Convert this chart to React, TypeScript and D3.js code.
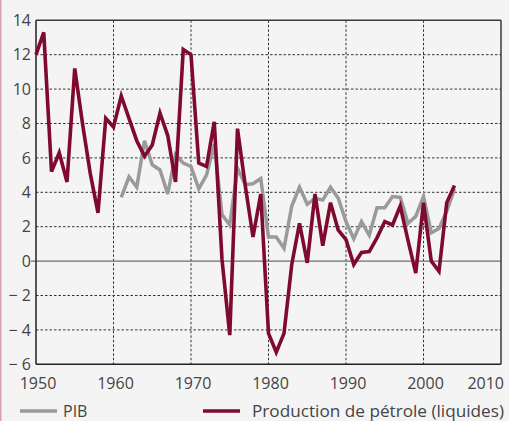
import React from "react";
import * as d3 from "d3";

const oilYears = d3.range(1950, 2005);
const oilValues = [
  12.0, 13.3, 5.2, 6.3, 4.6, 11.2, 8.0, 5.1, 2.8, 8.3,
  7.8, 9.6, 8.3, 7.0, 6.1, 6.75, 8.6, 7.3, 4.6, 12.3,
  12.0, 5.7, 5.5, 8.1, 0.1, -4.3, 7.7, 4.4, 1.4, 3.9,
  -4.2, -5.3, -4.2, -0.2, 2.2, -0.1, 3.9, 0.9, 3.4, 1.8,
  1.25, -0.2, 0.5, 0.55, 1.35, 2.3, 2.1, 3.2, 1.2, -0.7,
  3.4, 0.0, -0.6, 3.4, 4.4,
];
const pibYears = d3.range(1961, 2005);
const pibValues = [
  3.7, 4.9, 4.3, 7.0, 5.6, 5.3, 3.9, 6.2, 5.7, 5.5,
  4.2, 5.0, 6.8, 2.7, 2.1, 5.4, 4.45, 4.5, 4.8, 1.4,
  1.4, 0.75, 3.2, 4.3, 3.3, 3.65, 3.55, 4.3, 3.65, 2.3,
  1.3, 2.3, 1.5, 3.1, 3.1, 3.75, 3.7, 2.2, 2.6, 3.75,
  1.65, 1.9, 2.9, 4.2,
];
const yTicks = [14, 12, 10, 8, 6, 4, 2, 0, -2, -4, -6];
const xTicks = [1950, 1960, 1970, 1980, 1990, 2000, 2010];
const seriesNames = ["PIB", "Production de pétrole (liquides)"];

const W = 509, H = 421;
const L = 36, R = 501, T = 20.3, B = 364.3;
const OIL = "#800a2e";
const GRAY = "#9a9a9c";
const FONT = "'Open Sans', 'Noto Sans', sans-serif";
const FS = 16;

export default function App() {
  const x = d3.scaleLinear().domain([1950, 2010]).range([L, R]);
  const y = d3.scaleLinear().domain([-6, 14]).range([B, T]);
  const line = d3
    .line<[number, number]>()
    .x((d) => x(d[0]))
    .y((d) => y(d[1]));
  const oil = oilYears.map((yr, i) => [yr, oilValues[i]] as [number, number]);
  const pib = pibYears.map((yr, i) => [yr, pibValues[i]] as [number, number]);
  const fmt = (v: number) => (v < 0 ? "\u2212 " + Math.abs(v) : String(v));

  return (
    <svg
      width={W}
      height={H}
      style={{ position: "absolute", left: 0, top: 0, display: "block" }}
    >
      <rect x={0} y={0} width={W} height={H} fill="#f4f4f4" />
      <line x1={0.75} x2={0.75} y1={0} y2={H} stroke="#d6a3b6" strokeWidth={1.5} />
      {yTicks
        .filter((v) => v !== 0 && v !== -6 && v !== 14)
        .map((v) => (
          <line
            key={"hg" + v}
            x1={L}
            x2={R}
            y1={y(v)}
            y2={y(v)}
            stroke="#333"
            strokeWidth={1}
            strokeDasharray="2.5,2"
          />
        ))}
      {xTicks
        .filter((v) => v !== 1950 && v !== 2010)
        .map((v) => (
          <line
            key={"vg" + v}
            x1={x(v)}
            x2={x(v)}
            y1={T}
            y2={B}
            stroke="#333"
            strokeWidth={1}
            strokeDasharray="2.5,2"
          />
        ))}
      <line x1={L - 5} x2={R} y1={y(0)} y2={y(0)} stroke="#6e6e6e" strokeWidth={1.3} />
      <line x1={L} x2={R} y1={T} y2={T} stroke="#3a3a3a" strokeWidth={1.5} />
      <line x1={R} x2={R} y1={T} y2={B} stroke="#3a3a3a" strokeWidth={1.5} />
      <line x1={L} x2={L} y1={T} y2={B} stroke="#222" strokeWidth={1.5} />
      <line x1={L} x2={R} y1={B} y2={B} stroke="#222" strokeWidth={1.5} />
      <path d={line(pib) || ""} fill="none" stroke={GRAY} strokeWidth={3.5} strokeLinejoin="miter" />
      <path d={line(oil) || ""} fill="none" stroke={OIL} strokeWidth={3.6} strokeLinejoin="miter" />
      {yTicks.map((v) => (
        <text
          key={"yl" + v}
          x={31}
          y={y(v)}
          dy="0.36em"
          textAnchor="end"
          fontFamily={FONT}
          fontSize={FS}
          fill="#444"
        >
          {fmt(v)}
        </text>
      ))}
      {xTicks.map((v) => (
        <text
          key={"xl" + v}
          x={v === 2010 ? 504 : x(v) + 2}
          y={389}
          textAnchor={v === 2010 ? "end" : "middle"}
          fontFamily={FONT}
          fontSize={FS}
          fill="#444"
        >
          {v}
        </text>
      ))}
      <line x1={20} x2={57} y1={411} y2={411} stroke={GRAY} strokeWidth={3.5} />
      <text x={63} y={417} fontFamily={FONT} fontSize={FS} fill="#444">
        {seriesNames[0]}
      </text>
      <line x1={203} x2={240} y1={411} y2={411} stroke={OIL} strokeWidth={3.5} />
      <text x={252} y={417} fontFamily={FONT} fontSize={FS} fill="#444" textLength={252} lengthAdjust="spacingAndGlyphs">
        {seriesNames[1]}
      </text>
    </svg>
  );
}
